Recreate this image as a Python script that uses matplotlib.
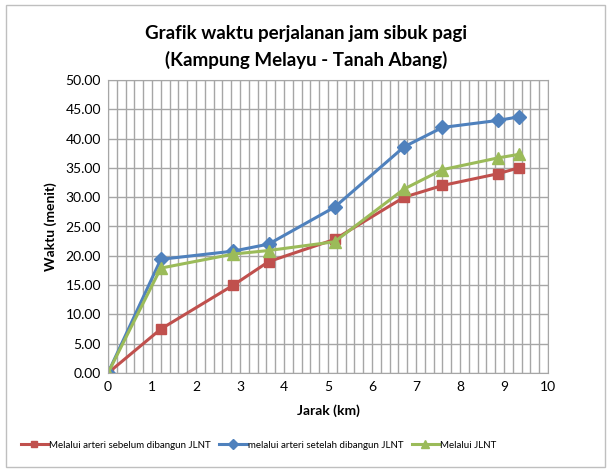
import matplotlib
matplotlib.use("Agg")
import matplotlib.pyplot as plt
from matplotlib.ticker import MultipleLocator, FormatStrFormatter
from matplotlib.patches import Rectangle

plt.rcParams['font.family'] = ['Lato', 'DejaVu Sans']

jarak = [0, 1.2, 2.85, 3.65, 5.15, 6.73, 7.6, 8.86, 9.33]
sebelum = [0, 7.5, 15.0, 19.0, 22.8, 30.0, 32.0, 34.0, 35.0]
setelah = [0, 19.4, 20.8, 22.0, 28.3, 38.6, 41.9, 43.1, 43.7]
jlnt = [0, 17.9, 20.3, 20.9, 22.4, 31.4, 34.7, 36.7, 37.3]

labels = ["Melalui arteri sebelum dibangun JLNT",
          "melalui arteri setelah dibangun JLNT",
          "Melalui JLNT"]
colors = ["#C0504D", "#4F81BD", "#9BBB59"]

fig = plt.figure(figsize=(6.12, 4.73), dpi=100)
fig.patches.append(Rectangle((6/612, 1 - 467/473), (605-6)/612, (467-5)/473,
                             transform=fig.transFigure, fill=False,
                             edgecolor="#BFBFBF", linewidth=1))
ax = fig.add_axes([108/612, 1 - 373/473, 440/612, 293/473])

ax.plot(jarak, sebelum, color=colors[0], marker='s', markersize=7, linewidth=2.2, label=labels[0])
ax.plot(jarak, setelah, color=colors[1], marker='D', markersize=7, linewidth=2.2, label=labels[1])
ax.plot(jarak, jlnt, color=colors[2], marker='^', markersize=8, linewidth=2.2, label=labels[2])

ax.set_xlim(0, 10)
ax.set_ylim(0, 50)
ax.xaxis.set_major_locator(MultipleLocator(1))
ax.xaxis.set_minor_locator(MultipleLocator(0.2))
ax.yaxis.set_major_locator(MultipleLocator(5))
ax.yaxis.set_major_formatter(FormatStrFormatter('%.2f'))
ax.grid(True, which='major', axis='both', color='#A6A6A6', linewidth=1)
ax.grid(True, which='minor', axis='x', color='#A6A6A6', linewidth=1)
ax.set_axisbelow(True)
for s in ax.spines.values():
    s.set_color('#A6A6A6')
ax.tick_params(axis='both', which='both', length=0, labelsize=10, pad=6, colors='black')
ax.tick_params(axis='y', pad=5)

ax.set_xlabel("Jarak (km)", fontsize=10, fontweight='bold', labelpad=8)
ax.set_ylabel("Waktu (menit)", fontsize=10, fontweight='bold', labelpad=6)

fig.text(0.5, 1 - 33/473, "Grafik waktu perjalanan jam sibuk pagi", ha='center', va='center',
         fontsize=13.5, fontweight='bold')
fig.text(0.5, 1 - 60/473, "(Kampung Melayu - Tanah Abang)", ha='center', va='center',
         fontsize=13.5, fontweight='bold')

fig.legend(loc='center left', bbox_to_anchor=(12/612, 1 - 445/473), ncol=3, frameon=False,
           fontsize=7, handlelength=2.8, handletextpad=0.1, columnspacing=0.9,
           markerscale=0.7)

fig.savefig("out.png", dpi=100)
